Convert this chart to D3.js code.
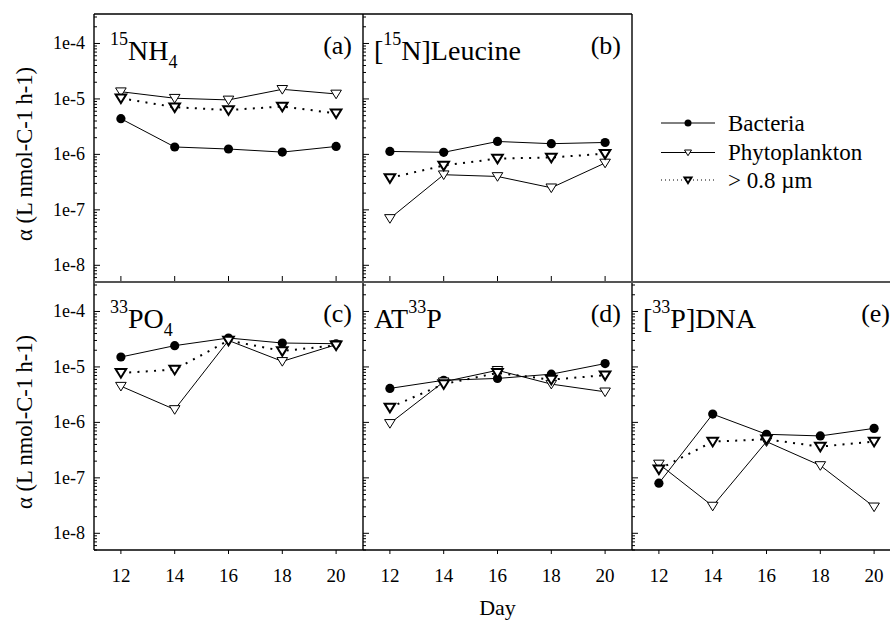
<!DOCTYPE html>
<html lang="en">
<head>
<meta charset="UTF-8">
<title>Alpha by day</title>
<script src="https://d3js.org/d3.v7.min.js"></script>
<style>
    body { margin: 0; background: #fff; }
    svg { display: block; font-family: "Liberation Serif", "Times New Roman", serif; }
</style>
</head>
<body>
<svg id="chart" width="890" height="621"></svg>
<script>
// days sampled
const days = [12, 14, 16, 18, 20];
const xTicks = [12, 14, 16, 18, 20];
const yTicks = [1e-4, 1e-5, 1e-6, 1e-7, 1e-8];
const yTickLabels = ["1e-4", "1e-5", "1e-6", "1e-7", "1e-8"];

// panel labels and titles (segments: [text, "sup" | "sub" | ""])
const panelTags = ["(a)", "(b)", "(c)", "(d)", "(e)"];
const panelTitles = [
    [["15", "sup"], ["NH", ""], ["4", "sub"]],
    [["[", ""], ["15", "sup"], ["N]Leucine", ""]],
    [["33", "sup"], ["PO", ""], ["4", "sub"]],
    [["AT", ""], ["33", "sup"], ["P", ""]],
    [["[", ""], ["33", "sup"], ["P]DNA", ""]]
];

// one row per panel a..e, values per day
const bacteria = [
    [4.4e-6, 1.36e-6, 1.25e-6, 1.1e-6, 1.39e-6],
    [1.13e-6, 1.09e-6, 1.71e-6, 1.56e-6, 1.64e-6],
    [1.51e-5, 2.42e-5, 3.32e-5, 2.70e-5, 2.62e-5],
    [4.1e-6, 5.75e-6, 6.2e-6, 7.4e-6, 1.15e-5],
    [8.0e-8, 1.41e-6, 6.1e-7, 5.7e-7, 7.8e-7]
];
const phyto = [
    [1.35e-5, 1.03e-5, 9.6e-6, 1.49e-5, 1.23e-5],
    [7.0e-8, 4.3e-7, 4.0e-7, 2.5e-7, 7.0e-7],
    [4.5e-6, 1.71e-6, 3.0e-5, 1.26e-5, 2.52e-5],
    [9.6e-7, 5.4e-6, 8.7e-6, 4.9e-6, 3.56e-6],
    [1.78e-7, 3.1e-8, 4.5e-7, 1.67e-7, 3.0e-8]
];
const size08 = [
    [1.03e-5, 7.1e-6, 6.3e-6, 7.3e-6, 5.5e-6],
    [3.76e-7, 6.3e-7, 8.4e-7, 8.8e-7, 1.03e-6],
    [7.8e-6, 8.95e-6, 3.0e-5, 1.94e-5, 2.45e-5],
    [1.86e-6, 4.9e-6, 7.8e-6, 5.9e-6, 7.1e-6],
    [1.43e-7, 4.5e-7, 4.95e-7, 3.66e-7, 4.5e-7]
];
const legendLabels = ["Bacteria", "Phytoplankton", "> 0.8 \u00b5m"];

// layout
const left0 = 94, top0 = 14, pw = 269, ph = 268;
const svg = d3.select("#chart");

const x = d3.scaleLinear().domain([11, 21]).range([0, pw]);
const y = d3.scaleLog().domain([5e-9, 3.4e-4]).range([ph, 0]);

// minor log ticks 2..9 for each decade in range
const minorTicks = [];
for (let e = -9; e <= -4; e++) {
    for (let m = 2; m <= 9; m++) {
        const v = m * Math.pow(10, e);
        if (v >= 5e-9 && v <= 3.4e-4) minorTicks.push(v);
    }
}

const triPath = "M-5.3,-3.8L5.3,-3.8L0,4.8Z";
const triSmall = "M-3.5,-2.5L3.5,-2.5L0,3.2Z";

const line = d3.line().x((d, i) => x(days[i])).y(d => y(d));

panelTags.forEach((tag, p) => {
    const col = p < 2 ? p : p - 2;
    const row = p < 2 ? 0 : 1;
    const g = svg.append("g")
        .attr("transform", `translate(${left0 + col * pw},${top0 + row * ph})`);

    // y ticks inside, on the left edge
    g.selectAll(".minor").data(minorTicks).enter().append("line")
        .attr("x1", 0).attr("x2", 3)
        .attr("y1", d => y(d)).attr("y2", d => y(d))
        .attr("stroke", "#000").attr("stroke-width", 1);
    g.selectAll(".major").data(yTicks).enter().append("line")
        .attr("x1", 0).attr("x2", 6)
        .attr("y1", d => y(d)).attr("y2", d => y(d))
        .attr("stroke", "#000").attr("stroke-width", 1);

    if (col === 0) {
        g.selectAll(".ylab").data(yTicks).enter().append("text")
            .attr("x", -9).attr("y", d => y(d)).attr("dy", "0.33em")
            .attr("text-anchor", "end").attr("font-size", 18)
            .text((d, i) => yTickLabels[i]);
    }

    // x ticks
    if (row === 0) {
        g.selectAll(".xt").data(xTicks).enter().append("line")
            .attr("x1", d => x(d)).attr("x2", d => x(d))
            .attr("y1", ph).attr("y2", ph - 6)
            .attr("stroke", "#000");
    } else {
        g.selectAll(".xt").data(xTicks).enter().append("line")
            .attr("x1", d => x(d)).attr("x2", d => x(d))
            .attr("y1", ph).attr("y2", ph + 4)
            .attr("stroke", "#000");
        g.selectAll(".xl").data(xTicks).enter().append("text")
            .attr("x", d => x(d)).attr("y", ph + 32)
            .attr("text-anchor", "middle").attr("font-size", 19)
            .text(d => d);
    }

    // series
    g.append("path").attr("d", line(phyto[p]))
        .attr("fill", "none").attr("stroke", "#000").attr("stroke-width", 1);
    g.append("path").attr("d", line(bacteria[p]))
        .attr("fill", "none").attr("stroke", "#000").attr("stroke-width", 1);
    g.append("path").attr("d", line(size08[p]))
        .attr("fill", "none").attr("stroke", "#000").attr("stroke-width", 2)
        .attr("stroke-dasharray", "2,6.3");

    g.selectAll(".pb").data(bacteria[p]).enter().append("circle")
        .attr("cx", (d, i) => x(days[i])).attr("cy", d => y(d))
        .attr("r", 4.6).attr("fill", "#000");
    g.selectAll(".pp").data(phyto[p]).enter().append("path")
        .attr("d", triPath)
        .attr("transform", (d, i) => `translate(${x(days[i])},${y(d)})`)
        .attr("fill", "#fff").attr("stroke", "#000").attr("stroke-width", 1);
    g.selectAll(".ps").data(size08[p]).enter().append("path")
        .attr("d", triPath)
        .attr("transform", (d, i) => `translate(${x(days[i])},${y(d)})`)
        .attr("fill", "#fff").attr("stroke", "#000").attr("stroke-width", 2);

    // title with super/subscripts
    const first = panelTitles[p][0][1];
    const t = g.append("text")
        .attr("x", first === "sup" ? 16 : 11).attr("y", 46)
        .attr("font-size", 28);
    let shift = 0;
    panelTitles[p].forEach(([s, kind]) => {
        const target = kind === "sup" ? -15 : kind === "sub" ? 8 : 0;
        t.append("tspan")
            .attr("dy", target - shift)
            .attr("font-size", kind ? 18 : 28)
            .text(s);
        shift = target;
    });

    g.append("text")
        .attr("x", pw - 11).attr("y", 40)
        .attr("text-anchor", "end").attr("font-size", 26)
        .text(tag);
});

// frame lines
const frame = svg.append("g").attr("stroke", "#000").attr("stroke-width", 1.4).attr("fill", "none");
const bottom = top0 + 2 * ph;
frame.append("line").attr("x1", left0).attr("x2", left0 + 2 * pw).attr("y1", top0).attr("y2", top0);
frame.append("line").attr("x1", left0).attr("x2", left0).attr("y1", top0).attr("y2", bottom);
frame.append("line").attr("x1", left0 + pw).attr("x2", left0 + pw).attr("y1", top0).attr("y2", bottom);
frame.append("line").attr("x1", left0 + 2 * pw).attr("x2", left0 + 2 * pw).attr("y1", top0).attr("y2", bottom);
frame.append("line").attr("x1", left0).attr("x2", 890).attr("y1", bottom).attr("y2", bottom);
frame.append("line").attr("x1", left0).attr("x2", 890).attr("y1", top0 + ph).attr("y2", top0 + ph)
    .attr("stroke", "#555").attr("stroke-width", 2);

// axis titles
[0, 1].forEach(r => {
    svg.append("text")
        .attr("transform", `translate(32,${top0 + r * ph + ph / 2 + 6}) rotate(-90)`)
        .attr("text-anchor", "middle").attr("font-size", 22.5)
        .text("\u03b1 (L nmol-C-1 h-1)");
});
svg.append("text")
    .attr("x", left0 + 1.5 * pw).attr("y", 615)
    .attr("text-anchor", "middle").attr("font-size", 22)
    .text("Day");

// legend
const leg = svg.append("g").attr("transform", "translate(661,123)");
legendLabels.forEach((lab, i) => {
    const gy = [0, 29.5, 57][i];
    const row = leg.append("g").attr("transform", `translate(0,${gy})`);
    row.append("line").attr("x1", 0).attr("x2", 54).attr("y1", 0).attr("y2", 0)
        .attr("stroke", "#000").attr("stroke-width", 1)
        .attr("stroke-dasharray", i === 2 ? "1,3" : null);
    if (i === 0) {
        row.append("circle").attr("cx", 27).attr("r", 3.5).attr("fill", "#000");
    } else {
        row.append("path").attr("d", triSmall).attr("transform", "translate(27,0)")
            .attr("fill", "#fff").attr("stroke", "#000").attr("stroke-width", i === 2 ? 2 : 1);
    }
    row.append("text").attr("x", 67).attr("y", 0).attr("dy", "0.33em")
        .attr("font-size", 23).text(lab);
});
</script>
</body>
</html>
